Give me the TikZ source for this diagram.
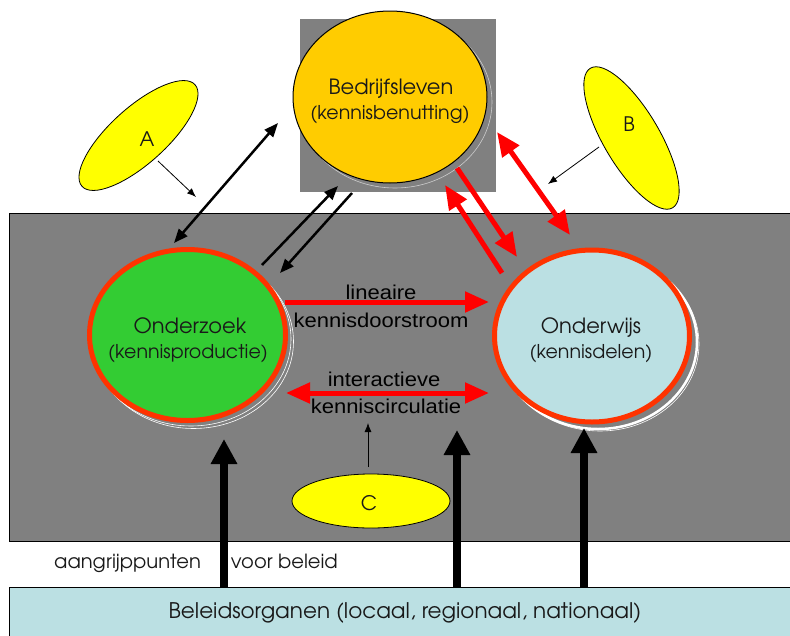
\documentclass[tikz,border=0pt]{standalone}
\usepackage{fontspec}
\setmainfont{Liberation Sans}
\newfontfamily\arialfont[FakeStretch=1.1]{Liberation Sans}
\newfontfamily\gothic{TeX Gyre Adventor}
\usepackage{tikz}
\usetikzlibrary{shapes.geometric, arrows.meta}
\usepackage{xcolor}
\definecolor{grijs}{RGB}{128,128,128}
\definecolor{oranjegeel}{RGB}{255,204,0}
\definecolor{groen}{RGB}{51,204,51}
\definecolor{lichtblauw}{RGB}{187,224,227}
\definecolor{rood}{RGB}{255,0,0}
\definecolor{rand}{RGB}{255,51,0}
\definecolor{geel}{RGB}{255,255,0}
\definecolor{tekst}{RGB}{25,25,25}

\begin{document}
\begin{tikzpicture}[x = 1pt, y = -1pt,
    kern/.style = {ellipse, draw = rand, line width = 5pt, inner sep = 0pt, minimum width = 196pt, minimum height = 171pt},
    titel/.style = {anchor = base, inner sep = 0pt, font = \gothic\fontsize{21}{24}\selectfont, text = tekst},
    ondertitel/.style = {anchor = base, inner sep = 0pt, font = \gothic\fontsize{19}{22}\selectfont, text = tekst},
    actor/.style = {ellipse, draw = black, fill = geel, line width = 0.8pt, inner sep = 0pt, minimum width = 152pt, minimum height = 56pt},
    letter/.style = {font = \gothic\fontsize{20}{22}\selectfont, text = tekst},
    uitleg/.style = {font = \arialfont\fontsize{20}{25}\selectfont, align = center, inner sep = 0pt},
    dunpijl/.style = {line width = 0.8pt, -{Latex[length = 9pt, width = 7pt]}},
    zwartpijl/.style = {line width = 2.5pt, -{Triangle[length = 14pt, width = 11pt]}},
    zwartdubbel/.style = {line width = 2.5pt, {Triangle[length = 14pt, width = 11pt]}-{Triangle[length = 14pt, width = 11pt]}},
    roodpijl/.style = {color = rood, line width = 5pt, -{Triangle[length = 24pt, width = 20pt]}},
    rooddubbel/.style = {color = rood, line width = 5pt, {Triangle[length = 24pt, width = 20pt]}-{Triangle[length = 24pt, width = 20pt]}},
    beleidpijl/.style = {line width = 7.5pt, -{Triangle[length = 25pt, width = 25pt]}}
]
    % Kader
    \useasboundingbox (0,0) rectangle (790,635);
    \fill[white] (0,0) rectangle (790,635);
    \draw[fill = grijs, line width = 0.8pt] (9,213) rectangle (800,541);
    \draw[fill = lichtblauw, line width = 0.8pt] (9,587) rectangle (800,645);
    \fill[grijs] (300,19) rectangle (496,192);
    % Bedrijfsleven
    \draw[gray!40!white, line width = 0.6pt] (395,102) ellipse [x radius = 97, y radius = 86];
    \node[ellipse, draw, line width = 1pt, fill = oranjegeel, minimum width = 194pt, minimum height = 172pt, inner sep = 0pt] (bedrijf) at (390,97) {};
    \node[titel] (bedrijftitel) at (391,94) {Bedrijfsleven};
    \node[ondertitel] (bedrijfsub) at (390,119) {(kennisbenutting)};
    % Actoren A, B
    \node[actor, minimum width = 152pt, rotate = 42] (A) at (138.5,135.5) {};
    \node[letter] (Atekst) at (147,139) {A};
    \node[actor, minimum width = 162pt, rotate = -59.5] (B) at (631.5,138) {};
    \node[letter] (Btekst) at (629,124) {B};
    % Schaduwen
    \draw[white, line width = 0.6pt] (191,339) ellipse [x radius = 100, y radius = 87];
    \draw[white, line width = 0.6pt] (193.5,341.5) ellipse [x radius = 100, y radius = 87];
    \draw[white, line width = 2.5pt] (598,342) ellipse [x radius = 99, y radius = 87];
    \draw[white, line width = 0.6pt] (600,344) ellipse [x radius = 99, y radius = 87];
    % Onderzoek en Onderwijs
    \node[kern, fill = groen] (onderzoek) at (187.5,335) {};
    \node[titel] (onderzoektitel) at (190,333) {Onderzoek};
    \node[ondertitel] (onderzoeksub) at (188,358) {(kennisproductie)};
    \node[kern, fill = lichtblauw, minimum width = 195pt, minimum height = 172pt] (onderwijs) at (592,336) {};
    \node[titel] (onderwijstitel) at (591,333) {Onderwijs};
    \node[ondertitel] (onderwijssub) at (591,358) {(kennisdelen)};
    % Actor C
    \node[actor, minimum width = 158pt, minimum height = 54pt] (C) at (371,501) {};
    \node[letter] (Ctekst) at (369,503) {C};
    % Beleid
    \node[font = \gothic\fontsize{19.5}{22}\selectfont, text = tekst, anchor = west, inner sep = 0pt] (aangrijp) at (54,563) {aangrijppunten\hspace{30pt}voor beleid};
    \node[font = \gothic\fontsize{21.5}{24}\selectfont, text = tekst] (organen) at (405,613) {Beleidsorganen (locaal, regionaal, nationaal)};
    % Eindpunten
    \coordinate (a1) at (158,161);
    \coordinate (a2) at (196,197);
    \coordinate (b1) at (599,147);
    \coordinate (b2) at (548,184);
    \coordinate (c1) at (368,467);
    \coordinate (c2) at (368,423);
    \coordinate (z1) at (174,243);
    \coordinate (z2) at (278,123);
    \coordinate (z3) at (262,265);
    \coordinate (z4) at (338,186);
    \coordinate (z5) at (352,193);
    \coordinate (z6) at (280,273);
    \coordinate (r1) at (457,168);
    \coordinate (r2) at (517,257);
    \coordinate (r3) at (502,273);
    \coordinate (r4) at (445,185);
    \coordinate (r5) at (497,132);
    \coordinate (r6) at (570,235);
    \coordinate (l1) at (285,302);
    \coordinate (l2) at (489,302);
    \coordinate (i1) at (286,393);
    \coordinate (i2) at (489,393);
    \coordinate (p1) at (224,588);
    \coordinate (p2) at (224,439);
    \coordinate (p3) at (457,588);
    \coordinate (p4) at (457,430);
    \coordinate (p5) at (584,588);
    \coordinate (p6) at (584,428);
    % Pijlen
    \draw[dunpijl] (a1) -- (a2);
    \draw[dunpijl] (b1) -- (b2);
    \draw[dunpijl] (c1) -- (c2);
    \draw[zwartdubbel] (z1) -- (z2);
    \draw[zwartpijl] (z3) -- (z4);
    \draw[zwartpijl] (z5) -- (z6);
    \draw[roodpijl] (r1) -- (r2);
    \draw[roodpijl] (r3) -- (r4);
    \draw[rooddubbel] (r5) -- (r6);
    \draw[roodpijl] (l1) -- (l2);
    \draw[rooddubbel] (i1) -- (i2);
    \draw[beleidpijl] (p1) -- (p2);
    \draw[beleidpijl] (p3) -- (p4);
    \draw[beleidpijl] (p5) -- (p6);
    % Teksten bij de pijlen
    \node[uitleg] (lineair) at (381,292) {lineaire};
    \node[uitleg] (doorstroom) at (381,320) {kennisdoorstroom};
    \node[uitleg] (interactief) at (384,379) {interactieve};
    \node[uitleg] (circulatie) at (386,406) {kenniscirculatie};
\end{tikzpicture}
\end{document}
